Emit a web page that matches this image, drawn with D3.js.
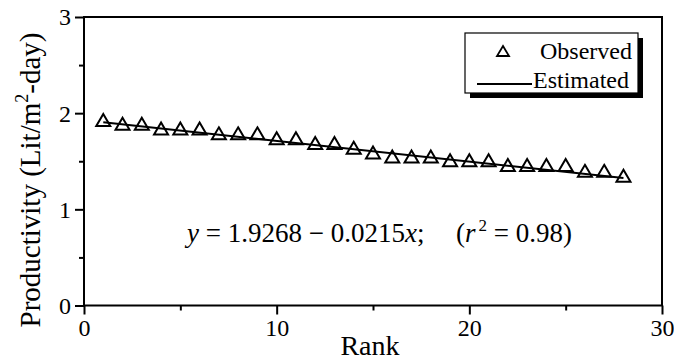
<!DOCTYPE html>
<html>
<head>
<meta charset="utf-8">
<script src="https://cdn.jsdelivr.net/npm/d3@7"></script>
<style>
  html, body { margin: 0; padding: 0; background: #fff; }
  svg { display: block; font-family: "Liberation Serif", "Times New Roman", serif; }
</style>
</head>
<body>
<svg id="chart" width="674" height="360"></svg>
<script>
// ---- data ----
const ranks = [1,2,3,4,5,6,7,8,9,10,11,12,13,14,15,16,17,18,19,20,21,22,23,24,25,26,27,28];
const observed = [1.93,1.89,1.89,1.84,1.84,1.84,1.79,1.79,1.79,1.74,1.74,1.69,1.69,1.64,1.59,
                  1.55,1.55,1.55,1.51,1.51,1.51,1.46,1.46,1.46,1.46,1.40,1.40,1.35];
const intercept = 1.9268;
const slope = -0.0215;
const xTicks = [0,10,20,30];
const xMinor = [5,15,25];
const yTicks = [0,1,2,3];
const yMinor = [0.5,1.5,2.5];
const legendLabels = ["Observed","Estimated"];

// ---- layout ----
const svg = d3.select("#chart");
const L = 84, R = 662, T = 17, B = 305.5;
const x = d3.scaleLinear().domain([0,30]).range([L,R]);
const y = d3.scaleLinear().domain([0,3]).range([B,T]);

// axes
const gx = svg.append("g").attr("transform",`translate(0,${B})`)
  .call(d3.axisBottom(x).tickValues(xTicks).tickSize(9).tickPadding(4).tickFormat(d3.format("d")));
const gxm = svg.append("g").attr("transform",`translate(0,${B})`)
  .call(d3.axisBottom(x).tickValues(xMinor).tickSize(5).tickFormat(""));
const gy = svg.append("g").attr("transform",`translate(${L},0)`)
  .call(d3.axisLeft(y).tickValues(yTicks).tickSize(9).tickPadding(4).tickFormat(d3.format("d")));
const gym = svg.append("g").attr("transform",`translate(${L},0)`)
  .call(d3.axisLeft(y).tickValues(yMinor).tickSize(5).tickFormat(""));
[gx,gxm,gy,gym].forEach(g => {
  g.select(".domain").remove();
  g.selectAll(".tick line").attr("stroke","#000").attr("stroke-width",2);
  g.selectAll(".tick text").attr("font-size",24).attr("fill","#000")
    .attr("font-family","Liberation Serif, Times New Roman, serif");
});
gx.selectAll(".tick text").attr("dy","0.72em");
gy.selectAll(".tick text").attr("dy","0.33em");

// frame
svg.append("rect").attr("x",L).attr("y",T).attr("width",R-L).attr("height",B-T)
  .attr("fill","none").attr("stroke","#000").attr("stroke-width",2);

// regression line
const fit = ranks.map(r => [r, intercept + slope*r]);
svg.append("path")
  .attr("d", d3.line().x(d=>x(d[0])).y(d=>y(d[1]))([fit[0], fit[fit.length-1]]))
  .attr("stroke","#000").attr("stroke-width",2).attr("fill","none");

// triangles
function tri(w,h){ return `M0,${-h/2}L${w/2},${h/2}L${-w/2},${h/2}Z`; }
svg.append("g").selectAll("path").data(ranks).join("path")
  .attr("transform",(d,i)=>`translate(${x(d)},${y(observed[i])})`)
  .attr("d", tri(14,12))
  .attr("fill","none").attr("stroke","#000").attr("stroke-width",2).attr("stroke-linejoin","miter");

// axis titles
svg.append("text").attr("x",(L+R)/2-3).attr("y",355).attr("text-anchor","middle")
  .attr("font-size",28).text("Rank");
const yt = svg.append("text").attr("transform","translate(40,180) rotate(-90)")
  .attr("text-anchor","middle").attr("font-size",29);
yt.append("tspan").text("Productivity (Lit/m");
yt.append("tspan").attr("font-size",18).attr("dy",-12).text("2");
yt.append("tspan").attr("dy",12).text("-day)");

// equation
const eq = svg.append("text").attr("x",187).attr("y",242).attr("font-size",27);
eq.append("tspan").attr("font-style","italic").text("y");
eq.append("tspan").text("\u2005=\u20051.9268\u2005\u2212\u20050.0215");
eq.append("tspan").attr("font-style","italic").text("x");
eq.append("tspan").text(";\u2003\u2006(");
eq.append("tspan").attr("font-style","italic").text("r");
eq.append("tspan").attr("font-size",17).attr("dy",-11).attr("dx",3).text("2");
eq.append("tspan").attr("dy",11).text("\u2005=\u20050.98)");

// legend
const lg = svg.append("g");
lg.append("rect").attr("x",470).attr("y",38).attr("width",173).attr("height",60).attr("fill","#000");
lg.append("rect").attr("x",465).attr("y",33).attr("width",173).attr("height",60)
  .attr("fill","#fff").attr("stroke","#000").attr("stroke-width",1.2);
lg.append("path").attr("transform","translate(503,51)").attr("d",tri(12,10))
  .attr("fill","none").attr("stroke","#000").attr("stroke-width",1.8);
lg.append("line").attr("x1",477).attr("x2",532).attr("y1",84).attr("y2",84)
  .attr("stroke","#000").attr("stroke-width",2);
lg.append("text").attr("x",540).attr("y",59).attr("font-size",24).text(legendLabels[0]);
lg.append("text").attr("x",533).attr("y",88).attr("font-size",24).text(legendLabels[1]);
</script>
</body>
</html>
